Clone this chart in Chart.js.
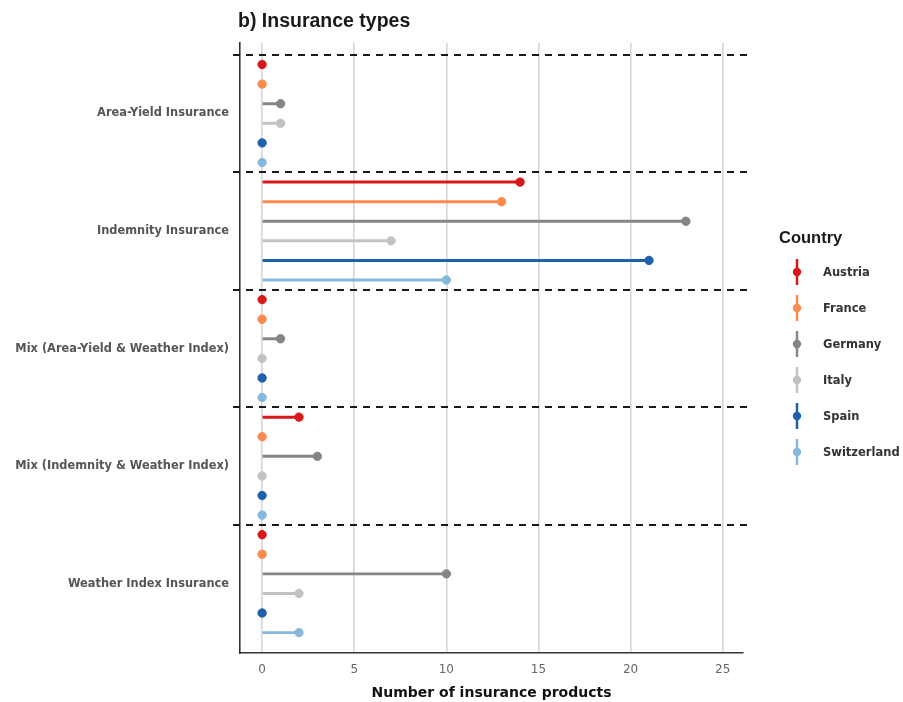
<!DOCTYPE html>
<html>
<head>
<meta charset="utf-8">
<script src="https://cdn.jsdelivr.net/npm/chart.js@4"></script>
<style>
  html, body { margin: 0; padding: 0; background: #fff; }
  #wrap { width: 903px; height: 702px; }
</style>
</head>
<body>
<div id="wrap"><canvas id="chart" width="903" height="702"></canvas></div>
<script>
// insurance types, top to bottom
const types = [
    'Area-Yield Insurance',
    'Indemnity Insurance',
    'Mix (Area-Yield & Weather Index)',
    'Mix (Indemnity & Weather Index)',
    'Weather Index Insurance',
];
const countries = ['Austria', 'France', 'Germany', 'Italy', 'Spain', 'Switzerland'];
const colors = ['#d7191c', '#f98b4e', '#858585', '#c2c2c2', '#1f61ad', '#86b7dc'];

// number of products per type, one array per country
const austria     = [0, 14, 0, 2, 0];
const france      = [0, 13, 0, 0, 0];
const germany     = [1, 23, 1, 3, 10];
const italy       = [1, 7, 0, 0, 2];
const spain       = [0, 21, 0, 0, 0];
const switzerland = [0, 10, 0, 0, 2];
const values = [austria, france, germany, italy, spain, switzerland];

const xTicks = [0, 5, 10, 15, 20, 25];

const labelFont = '"DejaVu Sans", Verdana, sans-serif';
const titleFont = '"Liberation Sans", Arial, sans-serif';

// dodge position of a country inside its type row
const pos = (t, c) => t + (c - 2.5) / 6;

const datasets = [];
countries.forEach((name, c) => {
    const pts = values[c].map((v, t) => ({ x: v, y: pos(t, c) }));
    datasets.push({
        type: 'scatter',
        label: name,
        data: pts,
        backgroundColor: colors[c],
        borderColor: colors[c],
        pointRadius: 4.2,
        pointHoverRadius: 4.2,
        order: 0,
    });
    datasets.push({
        type: 'bar',
        label: name + ' stem',
        data: pts,
        backgroundColor: colors[c],
        barThickness: 2.3,
        grouped: false,
        order: 1,
    });
});

const decor = {
    id: 'decor',
    afterDatasetsDraw(chart) {
        const { ctx, chartArea, scales } = chart;
        ctx.save();
        // dashed separators between types
        ctx.strokeStyle = '#1a1a1a';
        ctx.lineWidth = 2;
        ctx.setLineDash([7, 6]);
        for (let t = 0; t < types.length; t++) {
            const y = Math.round(scales.y.getPixelForValue(t - 0.5));
            ctx.beginPath();
            ctx.moveTo(chartArea.left - 7, y);
            ctx.lineTo(chartArea.right + 7, y);
            ctx.stroke();
        }
        ctx.restore();
    },
    afterDraw(chart) {
        const { ctx, chartArea } = chart;
        ctx.save();
        ctx.fillStyle = '#1a1a1a';
        ctx.font = 'bold 19.5px ' + titleFont;
        ctx.textBaseline = 'alphabetic';
        ctx.textAlign = 'left';
        ctx.fillText('b) Insurance types', chartArea.left - 2, 27);

        // legend
        ctx.font = 'bold 16.5px ' + titleFont;
        ctx.textBaseline = 'middle';
        ctx.fillText('Country', 779, 238);
        ctx.font = 'bold 11.5px ' + labelFont;
        countries.forEach((name, c) => {
            const y = 272 + c * 36;
            ctx.strokeStyle = colors[c];
            ctx.lineWidth = 2.5;
            ctx.beginPath();
            ctx.moveTo(797, y - 13);
            ctx.lineTo(797, y + 13);
            ctx.stroke();
            ctx.fillStyle = colors[c];
            ctx.beginPath();
            ctx.arc(797, y, 4.2, 0, Math.PI * 2);
            ctx.fill();
            ctx.fillStyle = '#333';
            ctx.fillText(name, 823, y + 1);
        });
        ctx.restore();
    },
};

new Chart(document.getElementById('chart'), {
    data: { datasets },
    options: {
        indexAxis: 'y',
        responsive: false,
        animation: false,
        layout: { padding: { top: 43, right: 160, left: 0, bottom: 0 } },
        plugins: {
            legend: { display: false },
            tooltip: { enabled: false },
        },
        scales: {
            x: {
                type: 'linear',
                min: -1.2,
                max: 26.1,
                afterBuildTicks: (scale) => {
                    scale.ticks = xTicks.map(v => ({ value: v }));
                },
                afterFit: (scale) => { scale.height = 49; },
                grid: { color: '#d6d6d6', lineWidth: 1.6, drawTicks: false },
                border: { color: '#333', width: 1.6 },
                ticks: {
                    color: '#666',
                    padding: 10,
                    font: { family: labelFont, size: 12 },
                },
                title: {
                    display: true,
                    text: 'Number of insurance products',
                    color: '#111',
                    padding: { top: 1, bottom: 0 },
                    font: { family: labelFont, size: 14, weight: 'bold' },
                },
            },
            y: {
                type: 'linear',
                reverse: true,
                offset: false,
                min: -0.6,
                max: 4.59,
                afterBuildTicks: (scale) => {
                    scale.ticks = types.map((_, i) => ({ value: i }));
                },
                afterFit: (scale) => { scale.width = 240; },
                grid: { display: false, drawTicks: false },
                border: { color: '#333', width: 1.6 },
                ticks: {
                    color: '#555',
                    padding: 11,
                    callback: (v) => types[v],
                    font: { family: labelFont, size: 11.4, weight: 'bold' },
                },
            },
        },
    },
    plugins: [decor],
});
</script>
</body>
</html>
